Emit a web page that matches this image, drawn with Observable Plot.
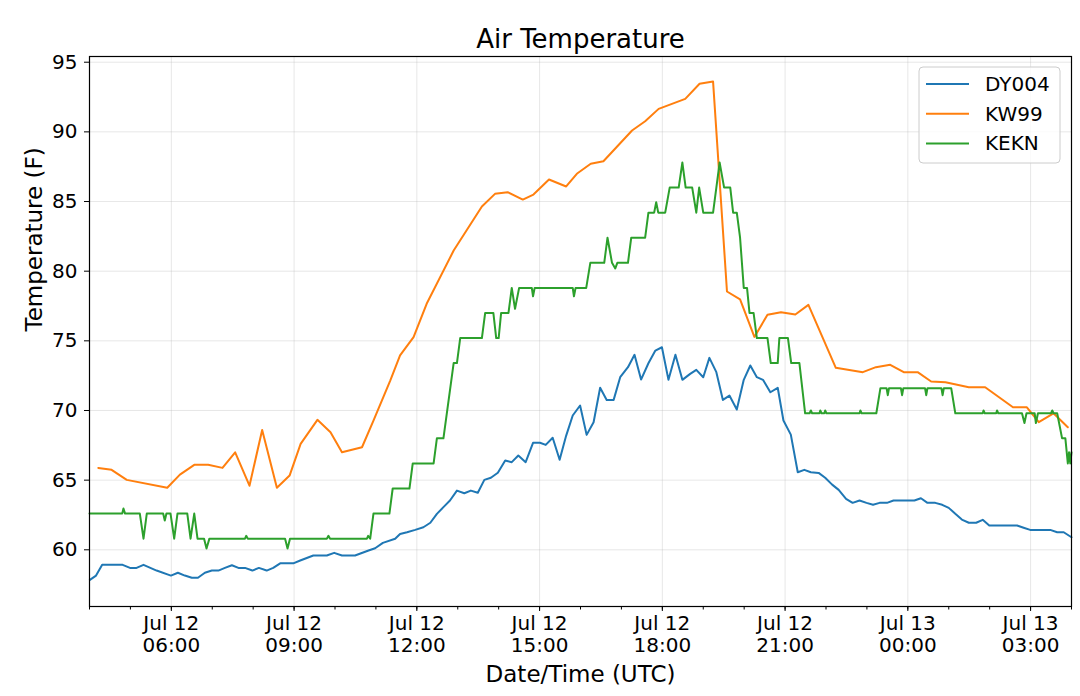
<!DOCTYPE html>
<html>
<head>
<meta charset="utf-8">
<script src="https://cdn.jsdelivr.net/npm/d3@7"></script>
<script src="https://cdn.jsdelivr.net/npm/@observablehq/plot@0.6"></script>
<style>
  body { margin: 0; background: white; }
  #chart { width: 1080px; height: 696px; }
</style>
</head>
<body>
<div id="chart"></div>
<script>
// hours after Jul 12 04:00 UTC, temperature in F
const stations = ['DY004', 'KW99', 'KEKN']
const colors = ['#1f77b4', '#ff7f0e', '#2ca02c']

const dyHours = [0.01, 0.16, 0.31, 0.81, 0.99, 1.15, 1.32, 1.64, 1.99, 2.16, 2.33, 2.50, 2.65, 2.82, 2.99, 3.15, 3.31, 3.48, 3.64, 3.80, 3.98, 4.14, 4.33, 4.49, 4.66, 4.98, 5.15, 5.47, 5.80, 5.98, 6.17, 6.49, 6.82, 6.98, 7.17, 7.47, 7.59, 7.76, 7.96, 8.16, 8.33, 8.49, 8.65, 8.81, 8.98, 9.16, 9.32, 9.49, 9.65, 9.81, 9.98, 10.16, 10.32, 10.48, 10.66, 10.84, 11.01, 11.15, 11.32, 11.49, 11.65, 11.81, 11.99, 12.15, 12.32, 12.48, 12.64, 12.81, 12.97, 13.16, 13.32, 13.48, 13.66, 13.83, 13.99, 14.15, 14.32, 14.49, 14.68, 14.83, 15.00, 15.15, 15.32, 15.48, 15.64, 15.82, 15.99, 16.15, 16.31, 16.46, 16.64, 16.82, 16.96, 17.14, 17.31, 17.47, 17.63, 17.82, 17.98, 18.15, 18.31, 18.49, 18.65, 18.82, 18.99, 19.15, 19.31, 19.49, 19.65, 19.98, 20.16, 20.32, 20.48, 20.67, 20.84, 21.00, 21.16, 21.32, 21.49, 21.67, 21.83, 21.99, 22.16, 22.50, 22.67, 22.83, 22.99, 23.15, 23.48, 23.65, 23.81, 24.00]
const dyTemps = [57.84, 58.15, 58.92, 58.92, 58.7, 58.7, 58.92, 58.51, 58.15, 58.35, 58.15, 57.99, 57.99, 58.35, 58.51, 58.51, 58.7, 58.89, 58.7, 58.7, 58.51, 58.7, 58.51, 58.7, 59.03, 59.03, 59.23, 59.59, 59.59, 59.78, 59.59, 59.59, 59.95, 60.11, 60.5, 60.79, 61.14, 61.26, 61.43, 61.62, 61.94, 62.58, 63.06, 63.54, 64.25, 64.06, 64.25, 64.09, 65.02, 65.17, 65.53, 66.41, 66.29, 66.77, 66.29, 67.68, 67.68, 67.53, 68.04, 66.46, 68.2, 69.64, 70.36, 68.25, 69.16, 71.63, 70.76, 70.76, 72.39, 73.11, 74.0, 72.22, 73.39, 74.3, 74.54, 72.2, 74.0, 72.2, 72.63, 72.92, 72.39, 73.78, 72.75, 70.76, 71.07, 70.07, 72.2, 73.23, 72.39, 72.2, 71.31, 71.63, 69.28, 68.27, 65.57, 65.74, 65.57, 65.52, 65.17, 64.68, 64.3, 63.66, 63.37, 63.54, 63.37, 63.23, 63.37, 63.37, 63.54, 63.54, 63.54, 63.7, 63.37, 63.37, 63.23, 63.01, 62.58, 62.17, 61.94, 61.94, 62.15, 61.74, 61.74, 61.74, 61.74, 61.58, 61.43, 61.43, 61.43, 61.26, 61.26, 60.9]

const kwHours = [0.215, 0.54, 0.91, 1.90, 2.21, 2.56, 2.90, 3.25, 3.56, 3.91, 4.22, 4.58, 4.89, 5.16, 5.57, 5.89, 6.17, 6.66, 6.94, 7.35, 7.59, 7.92, 8.24, 8.90, 9.59, 9.91, 10.22, 10.59, 10.85, 11.23, 11.65, 11.91, 12.25, 12.56, 13.26, 13.58, 13.91, 14.56, 14.91, 15.24, 15.58, 15.90, 16.25, 16.57, 16.90, 17.25, 17.57, 18.24, 18.90, 19.22, 19.57, 19.90, 20.24, 20.57, 20.92, 21.49, 21.89, 22.57, 22.91, 23.20, 23.56, 23.91]
const kwTemps = [65.88, 65.74, 65.02, 64.45, 65.4, 66.1, 66.1, 65.88, 67.0, 64.6, 68.6, 64.45, 65.33, 67.6, 69.33, 68.44, 67.0, 67.36, 69.28, 72.15, 73.95, 75.26, 77.66, 81.48, 84.64, 85.55, 85.67, 85.14, 85.5, 86.58, 86.08, 86.99, 87.71, 87.89, 90.1, 90.76, 91.65, 92.37, 93.45, 93.61, 78.54, 77.97, 75.28, 76.87, 77.05, 76.89, 77.58, 73.06, 72.75, 73.11, 73.28, 72.75, 72.75, 72.08, 72.03, 71.67, 71.67, 70.23, 70.23, 69.16, 69.8, 68.8]

const keHours = [0.00, 0.80, 0.83, 0.87, 1.23, 1.32, 1.40, 1.80, 1.84, 1.88, 1.98, 2.07, 2.15, 2.39, 2.47, 2.56, 2.64, 2.80, 2.86, 2.93, 3.80, 3.83, 3.87, 4.78, 4.84, 4.90, 5.80, 5.84, 5.88, 6.78, 6.81, 6.86, 6.94, 7.33, 7.41, 7.82, 7.90, 8.41, 8.49, 8.65, 8.90, 8.98, 9.06, 9.59, 9.67, 9.87, 9.94, 10.00, 10.06, 10.24, 10.32, 10.40, 10.50, 10.81, 10.84, 10.88, 11.81, 11.84, 11.88, 12.14, 12.24, 12.58, 12.66, 12.77, 12.85, 12.90, 13.16, 13.24, 13.58, 13.66, 13.80, 13.85, 13.90, 14.07, 14.18, 14.40, 14.49, 14.57, 14.73, 14.83, 14.90, 15.00, 15.24, 15.40, 15.51, 15.66, 15.73, 15.82, 15.90, 15.99, 16.07, 16.13, 16.23, 16.31, 16.57, 16.65, 16.82, 16.86, 17.07, 17.15, 17.35, 17.49, 17.60, 17.63, 17.66, 17.84, 17.86, 17.89, 17.96, 17.98, 18.01, 18.82, 18.84, 18.87, 19.23, 19.33, 19.48, 19.51, 19.54, 19.83, 19.86, 19.89, 20.42, 20.45, 20.48, 20.82, 20.85, 20.88, 21.06, 21.16, 21.83, 21.85, 21.88, 22.16, 22.18, 22.21, 22.79, 22.85, 22.90, 23.10, 23.13, 23.18, 23.50, 23.53, 23.56, 23.65, 23.77, 23.85, 23.91, 23.94, 23.97, 24.00]
const keTemps = [62.6, 62.6, 62.96, 62.6, 62.6, 60.8, 62.6, 62.6, 62.1, 62.6, 62.6, 60.8, 62.6, 62.6, 60.8, 62.6, 60.8, 60.8, 60.1, 60.8, 60.8, 61.0, 60.8, 60.8, 60.1, 60.8, 60.8, 61.0, 60.8, 60.8, 61.0, 60.8, 62.6, 62.6, 64.4, 64.4, 66.2, 66.2, 68.0, 68.0, 73.4, 73.4, 75.2, 75.2, 77.0, 77.0, 75.2, 75.2, 77.0, 77.0, 78.8, 77.3, 78.8, 78.8, 78.2, 78.8, 78.8, 78.2, 78.8, 78.8, 80.6, 80.6, 82.4, 80.6, 80.2, 80.6, 80.6, 82.4, 82.4, 84.2, 84.2, 84.95, 84.2, 84.2, 86.0, 86.0, 87.8, 86.0, 86.0, 84.2, 86.0, 84.2, 84.2, 87.8, 86.0, 86.0, 84.2, 84.2, 82.4, 78.8, 78.8, 77.0, 77.0, 75.2, 75.2, 73.4, 73.4, 75.2, 75.2, 73.4, 73.4, 69.8, 69.8, 70.0, 69.8, 69.8, 70.0, 69.8, 69.8, 70.0, 69.8, 69.8, 70.0, 69.8, 69.8, 71.6, 71.6, 71.1, 71.6, 71.6, 71.1, 71.6, 71.6, 71.1, 71.6, 71.6, 71.1, 71.6, 71.6, 69.8, 69.8, 70.0, 69.8, 69.8, 70.0, 69.8, 69.8, 69.1, 69.8, 69.8, 69.1, 69.8, 69.8, 70.0, 69.8, 69.8, 68.0, 68.0, 66.2, 67.0, 66.2, 67.0]

const yTicks = [60, 65, 70, 75, 80, 85, 90, 95]
const start = Date.UTC(2019, 6, 12, 4)
const toDate = h => new Date(start + h * 3600e3)

const series = [[dyHours, dyTemps], [kwHours, kwTemps], [keHours, keTemps]]
const rows = series.flatMap(([hs, ts], i) => hs.map((h, j) => ({station: stations[i], date: toDate(h), temp: ts[j]})))

const majorTicks = d3.utcHour.range(toDate(2), toDate(24.01), 3)
const minorTicks = d3.utcHour.range(toDate(0), toDate(24.01), 1)
const fmt = d3.utcFormat('%b %d\n%H:%M')

let chart = Plot.plot({
  width: 1080,
  height: 696,
  marginLeft: 89,
  marginRight: 9,
  marginTop: 56,
  marginBottom: 90,
  style: {fontFamily: 'DejaVu Sans', fontSize: '20px', background: 'white', color: 'black'},
  x: {type: 'utc', domain: [toDate(0), toDate(24)]},
  y: {domain: [55.93, 95.41]},
  color: {domain: stations, range: colors},
  marks: [
    Plot.gridX({ticks: majorTicks, stroke: '#b0b0b0', strokeOpacity: 0.3}),
    Plot.gridY({ticks: yTicks, stroke: '#b0b0b0', strokeOpacity: 0.3}),
    Plot.lineY(rows, {x: 'date', y: 'temp', z: 'station', stroke: 'station', strokeWidth: 2}),
    Plot.frame({stroke: 'black', strokeWidth: 1.2}),
    Plot.axisX({ticks: minorTicks, tickSize: 3.5, tickFormat: () => '', label: null}),
    Plot.axisX({ticks: majorTicks, tickSize: 5, tickPadding: 3, tickFormat: fmt, lineHeight: 1.1, fontSize: 20, label: null}),
    Plot.axisY({ticks: yTicks, tickSize: 5, tickPadding: 7, fontSize: 20, label: null}),
    Plot.text(['Air Temperature'], {frameAnchor: 'top', lineAnchor: 'middle', dy: -17, fontSize: 26}),
    Plot.text(['Date/Time (UTC)'], {frameAnchor: 'bottom', lineAnchor: 'middle', dy: 68, fontSize: 23}),
    Plot.text(['Temperature (F)'], {frameAnchor: 'left', lineAnchor: 'middle', dx: -55, rotate: -90, fontSize: 23}),
  ],
})

// legend box, top right inside the frame
const svg = d3.select(chart)
const lg = svg.append('g').attr('transform', 'translate(919,67)')
lg.append('rect').attr('width', 141).attr('height', 96).attr('rx', 4)
  .attr('fill', 'white').attr('fill-opacity', 0.8).attr('stroke', '#cccccc')
stations.forEach((s, i) => {
  const y = 17 + i * 29.7
  lg.append('line').attr('x1', 7).attr('x2', 50).attr('y1', y).attr('y2', y)
    .attr('stroke', colors[i]).attr('stroke-width', 2)
  lg.append('text').attr('x', 66).attr('y', y).attr('dy', '0.35em')
    .attr('text-anchor', 'start').attr('font-size', 20).attr('fill', 'black').text(s)
})

d3.select('#chart').append(() => chart)
</script>
</body>
</html>
